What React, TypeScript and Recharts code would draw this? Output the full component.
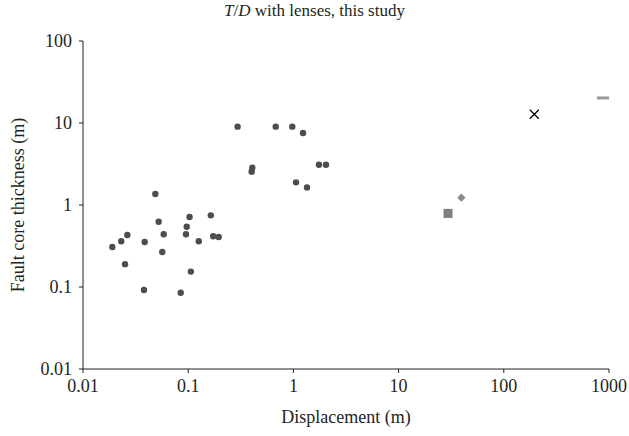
import React from 'react';
import { ScatterChart, Scatter, XAxis, YAxis } from 'recharts';

// Displacement (m) and fault core thickness (m), this study (circles)
const studyDisplacement = [0.019, 0.0231, 0.0264, 0.0251, 0.0386, 0.038, 0.0487, 0.0524, 0.0585, 0.0567, 0.0849, 0.103, 0.0968, 0.0953, 0.106, 0.126, 0.164, 0.173, 0.195, 0.295, 0.407, 0.401, 0.679, 0.976, 1.234, 1.059, 1.347, 1.75, 2.04];
const studyThickness = [0.307, 0.361, 0.431, 0.19, 0.354, 0.092, 1.36, 0.625, 0.44, 0.267, 0.0852, 0.714, 0.544, 0.44, 0.154, 0.361, 0.748, 0.415, 0.407, 9.02, 2.85, 2.55, 9.02, 9.02, 7.55, 1.89, 1.64, 3.1, 3.1];

const squareDisplacement = [29.5];
const squareThickness = [0.79];
const diamondDisplacement = [39.5];
const diamondThickness = [1.23];
const crossDisplacement = [195];
const crossThickness = [12.8];
const dashDisplacement = [877];
const dashThickness = [20.2];

const xTicks = [0.01, 0.1, 1, 10, 100, 1000];
const yTicks = [0.01, 0.1, 1, 10, 100];

const toPoints = (xs: number[], ys: number[]) => xs.map((x, i) => ({ x, y: ys[i] }));

const studyData = toPoints(studyDisplacement, studyThickness);
const squareData = toPoints(squareDisplacement, squareThickness);
const diamondData = toPoints(diamondDisplacement, diamondThickness);
const crossData = toPoints(crossDisplacement, crossThickness);
const dashData = toPoints(dashDisplacement, dashThickness);

const FONT = 'Liberation Serif';
const INK = '#231f20';

const CircleShape = (p: any) => <circle cx={p.cx} cy={p.cy} r={3.2} fill="#4d4d4d" />;
const SquareShape = (p: any) => <rect x={p.cx - 4.5} y={p.cy - 4.5} width={9} height={9} fill="#7f7f7f" />;
const DiamondShape = (p: any) => (
  <polygon points={`${p.cx},${p.cy - 4.2} ${p.cx + 4.2},${p.cy} ${p.cx},${p.cy + 4.2} ${p.cx - 4.2},${p.cy}`} fill="#8a8a8a" />
);
const CrossShape = (p: any) => (
  <g stroke="#000" strokeWidth={1.3}>
    <line x1={p.cx - 4.5} y1={p.cy - 4.5} x2={p.cx + 4.5} y2={p.cy + 4.5} />
    <line x1={p.cx - 4.5} y1={p.cy + 4.5} x2={p.cx + 4.5} y2={p.cy - 4.5} />
  </g>
);
const DashShape = (p: any) => <rect x={p.cx - 6} y={p.cy - 1.5} width={12} height={3} fill="#9a9a9a" />;

const fmt = (v: number) => String(v);

const tickStyle = { fill: INK, fontFamily: FONT, fontSize: 18 };

export default function App() {
  return (
    <div
      style={{
        position: 'absolute',
        left: 0,
        top: 0,
        width: 629,
        height: 436,
        background: '#fff',
        fontFamily: FONT,
      }}
    >
      <div
        style={{
          position: 'absolute',
          left: 0,
          top: 1,
          width: 629,
          textAlign: 'center',
          fontFamily: FONT,
          fontSize: 17,
          color: INK,
          lineHeight: '20px',
        }}
      >
        <i>T</i>/<i>D</i> with lenses, this study
      </div>
      <ScatterChart
        width={629}
        height={436}
        margin={{ top: 41, right: 20, bottom: 0, left: 0 }}
        style={{ fontFamily: FONT }}
      >
        <XAxis
          dataKey="x"
          type="number"
          scale="log"
          domain={[0.01, 1000]}
          ticks={xTicks}
          tickFormatter={fmt}
          allowDataOverflow
          height={67}
          stroke={INK}
          tickSize={4}
          tickMargin={6}
          tick={tickStyle}
          tickLine={{ stroke: INK }}
          label={{ value: 'Displacement (m)', position: 'insideBottom', offset: 13, fill: INK, fontFamily: FONT, fontSize: 18 }}
        />
        <YAxis
          dataKey="y"
          type="number"
          scale="log"
          domain={[0.01, 100]}
          ticks={yTicks}
          tickFormatter={fmt}
          allowDataOverflow
          width={83}
          stroke={INK}
          tickSize={4}
          tickMargin={7}
          tick={tickStyle}
          tickLine={{ stroke: INK }}
          label={{ value: 'Fault core thickness (m)', angle: -90, position: 'center', dx: -24, fill: INK, fontFamily: FONT, fontSize: 18 }}
        />
        <Scatter data={studyData} shape={CircleShape} isAnimationActive={false} />
        <Scatter data={squareData} shape={SquareShape} isAnimationActive={false} />
        <Scatter data={diamondData} shape={DiamondShape} isAnimationActive={false} />
        <Scatter data={crossData} shape={CrossShape} isAnimationActive={false} />
        <Scatter data={dashData} shape={DashShape} isAnimationActive={false} />
      </ScatterChart>
    </div>
  );
}
